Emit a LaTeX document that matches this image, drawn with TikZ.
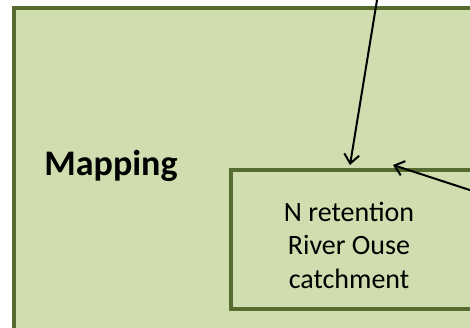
\documentclass[tikz,border=0pt]{standalone}
\usepackage{fontspec}
\setmainfont{Carlito}
\usetikzlibrary{positioning,calc,arrows.meta}
\definecolor{panelfill}{HTML}{CFDDAF}
\definecolor{paneledge}{HTML}{566B2E}
\begin{document}
\begin{tikzpicture}[x=1pt,y=1pt]
  % Styles local to this figure.
  \tikzset{
    panel/.style={draw=paneledge,line width=4pt,fill=panelfill},
    feed/.style={line width=2pt,-{Straight Barb[length=9pt,width=15pt,line width=2pt]}}
  }
  \useasboundingbox (0,0) rectangle (470,327);
  \clip (0,0) rectangle (470,327);

  % Outer mapping panel, running off the right and bottom.
  \node[panel,minimum width=480pt,minimum height=340pt,anchor=north west,inner sep=0pt] (mapbox) at (11.5,320.5) {};
  \node[font=\fontsize{36}{42}\selectfont\bfseries] (maplbl) at (111,161.5) {Mapping};

  % Inner result box.
  \node[panel,minimum width=280pt,minimum height=139pt,anchor=north west,inner sep=0pt] (retbox) at (228.5,159) {};
  \node[align=center,font=\fontsize{28}{33.5}\selectfont] (rettxt) at (349,82) {N retention\\River Ouse\\catchment};

  % Incoming arrows from outside the view.
  \coordinate (src1) at (377.5,330);
  \coordinate (src2) at (482,133);
  \draw[feed] (src1) -- ($(retbox.north west)+(121.5,3)$);
  \draw[feed] (src2) -- ($(retbox.north west)+(164.5,3)$);
\end{tikzpicture}
\end{document}
